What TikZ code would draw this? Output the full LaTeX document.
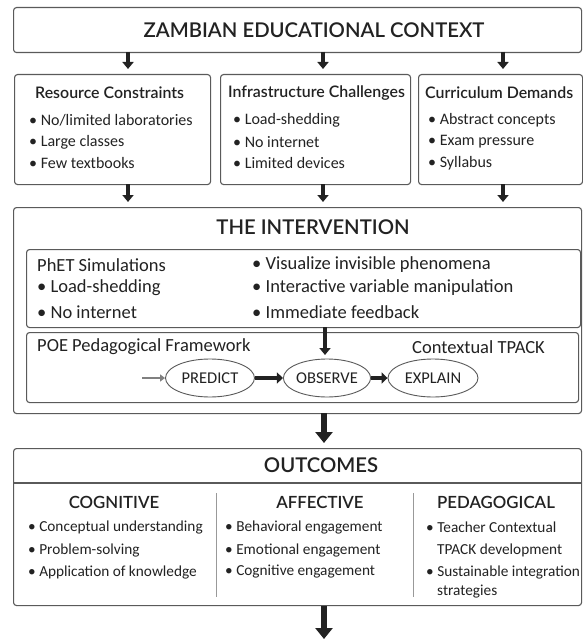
\documentclass[tikz,border=0pt]{standalone}
\usepackage{fontspec}
\setmainfont{Carlito}
\newfontfamily\semib{Lato Semibold}
\usetikzlibrary{arrows.meta,shapes.geometric}
\definecolor{bord}{HTML}{5A5A5A}
\definecolor{ink}{HTML}{222222}
\tikzset{
  box/.style={draw=bord,line width=1.1pt,rounded corners=3pt,fill=white},
  title/.style={font=\semib\fontsize{20.3}{23}\selectfont,text=ink,inner sep=0pt},
  head/.style={font=\semib\fontsize{15.9}{18}\selectfont,text=ink,inner sep=0pt,anchor=west},
  txt/.style={font=\fontsize{16}{18}\selectfont,text=ink,inner sep=0pt,anchor=west},
  itxt/.style={font=\fontsize{18.5}{20}\selectfont,text=ink,inner sep=0pt,anchor=west},
  otxt/.style={font=\fontsize{15.3}{18}\selectfont,text=ink,inner sep=0pt,anchor=west},
  colhead/.style={font=\semib\fontsize{16.8}{19}\selectfont,text=ink,inner sep=0pt},
  oval/.style={draw=bord,line width=0.9pt,ellipse,inner sep=0pt,font=\fontsize{16.5}{18}\selectfont,text=ink},
  arr/.style={draw=ink,line width=3.5pt,-{Triangle[width=11pt,length=7pt]}},
  bigarr/.style={draw=ink,line width=5.5pt,-{Triangle[width=17pt,length=11pt]}},
  smallarr/.style={draw=gray,line width=1.8pt,-{Triangle[width=7pt,length=5pt]}},
  stepper/.style={draw=ink,line width=4.5pt,-{Triangle[width=11pt,length=6pt]}},
  divider/.style={draw=gray!80,line width=1pt}
}
\begin{document}
\begin{tikzpicture}[x=1pt,y=-1pt]
\useasboundingbox (0,0) rectangle (582,639);
% top box
\node[box,minimum width=568pt,minimum height=45pt,anchor=north west] (ctx) at (13,7) {};
\node[title] (ctxt) at (314,30) {ZAMBIAN EDUCATIONAL CONTEXT};
% three boxes
\node[box,minimum width=196pt,minimum height=110pt,anchor=north west] (b1) at (14,74) {};
\node[box,minimum width=190pt,minimum height=110pt,anchor=north west] (b2) at (220,74) {};
\node[box,minimum width=164pt,minimum height=110pt,anchor=north west] (b3) at (418,74) {};
\coordinate (a1t) at (128,52); \coordinate (a1b) at (128,69);
\coordinate (a2t) at (323,52); \coordinate (a2b) at (323,69);
\coordinate (a3t) at (503,52); \coordinate (a3b) at (503,69);
\draw[arr] (a1t) -- (a1b);
\draw[arr] (a2t) -- (a2b);
\draw[arr] (a3t) -- (a3b);
\node[head] (h1) at (35,93) {Resource Constraints};
\node[txt] (t11) at (29,120) {• No/limited laboratories};
\node[txt] (t12) at (29,142) {• Large classes};
\node[txt] (t13) at (29,163) {• Few textbooks};
\node[head] (h2) at (228,93) {Infrastructure Challenges};
\node[txt] (t21) at (233,120) {• Load-shedding};
\node[txt] (t22) at (233,142) {• No internet};
\node[txt] (t23) at (233,163) {• Limited devices};
\node[head] (h3) at (425,93) {Curriculum Demands};
\node[txt] (t31) at (428,120) {• Abstract concepts};
\node[txt] (t32) at (428,142) {• Exam pressure};
\node[txt] (t33) at (428,163) {• Syllabus};
% intervention
\node[box,minimum width=568pt,minimum height=206pt,anchor=north west] (int) at (13,207) {};
\coordinate (c1t) at (128,184); \coordinate (c1b) at (128,202);
\coordinate (c2t) at (323,184); \coordinate (c2b) at (323,202);
\coordinate (c3t) at (503,184); \coordinate (c3b) at (503,202);
\draw[arr] (c1t) -- (c1b);
\draw[arr] (c2t) -- (c2b);
\draw[arr] (c3t) -- (c3b);
\node[title] (intt) at (313,227) {THE INTERVENTION};
\node[box,minimum width=554pt,minimum height=78pt,anchor=north west] (phet) at (26,249) {};
\node[itxt] (ph) at (37,265) {PhET Simulations};
\node[itxt] (p1) at (37,288) {• Load-shedding};
\node[itxt] (p2) at (37,312) {• No internet};
\node[itxt] (p3) at (252,265) {• Visualize invisible phenomena};
\node[itxt] (p4) at (252,288) {• Interactive variable manipulation};
\node[itxt] (p5) at (252,312) {• Immediate feedback};
\node[box,minimum width=552pt,minimum height=70pt,anchor=north west] (poe) at (26,332) {};
\node[itxt] (poeh) at (37,347) {POE Pedagogical Framework};
\node[itxt,anchor=east] (tp) at (545,347) {Contextual TPACK};
\node[oval,minimum width=89pt,minimum height=38pt] (pr) at (210,378) {PREDICT};
\node[oval,minimum width=80pt,minimum height=38pt] (ob) at (327,378) {OBSERVE};
\node[oval,minimum width=90pt,minimum height=38pt] (ex) at (433,378) {EXPLAIN};
\coordinate (sa) at (142,378);
\draw[smallarr] (sa) -- (pr.west);
\draw[stepper] (pr.east) -- (ob.west);
\draw[stepper] (ob.east) -- (ex.west);
\coordinate (dtop) at (325,327);
\coordinate (dbot) at (325,355);
\draw[arr] (dtop) -- (dbot);
% outcomes
\node[box,minimum width=568pt,minimum height=157pt,anchor=north west] (out) at (13,448) {};
\coordinate (bt) at (324,413); \coordinate (bb) at (324,443);
\draw[bigarr] (bt) -- (bb);
\node[title] (outt) at (321,465) {OUTCOMES};
\coordinate (sl) at (13,483); \coordinate (sr) at (581,483);
\draw[draw=bord,line width=1.1pt] (sl) -- (sr);
\coordinate (d1t) at (216,493); \coordinate (d1b) at (216,597);
\coordinate (d2t) at (413,493); \coordinate (d2b) at (413,597);
\draw[divider] (d1t) -- (d1b);
\draw[divider] (d2t) -- (d2b);
\node[colhead] (ch1) at (114,502) {COGNITIVE};
\node[colhead] (ch2) at (320,502) {AFFECTIVE};
\node[colhead] (ch3) at (496,502) {PEDAGOGICAL};
\node[otxt] (o11) at (28,527) {• Conceptual understanding};
\node[otxt] (o12) at (28,550) {• Problem-solving};
\node[otxt] (o13) at (28,572) {• Application of knowledge};
\node[otxt] (o21) at (225,527) {• Behavioral engagement};
\node[otxt] (o22) at (225,550) {• Emotional engagement};
\node[otxt] (o23) at (225,572) {• Cognitive engagement};
\node[otxt] (o31) at (426,527) {• Teacher Contextual};
\node[otxt] (o32) at (437,550) {TPACK development};
\node[otxt] (o33) at (426,572) {• Sustainable integration};
\node[otxt] (o34) at (437,592) {strategies};
\coordinate (ft) at (324,606); \coordinate (fb) at (324,639);
\draw[bigarr] (ft) -- (fb);
\end{tikzpicture}
\end{document}
